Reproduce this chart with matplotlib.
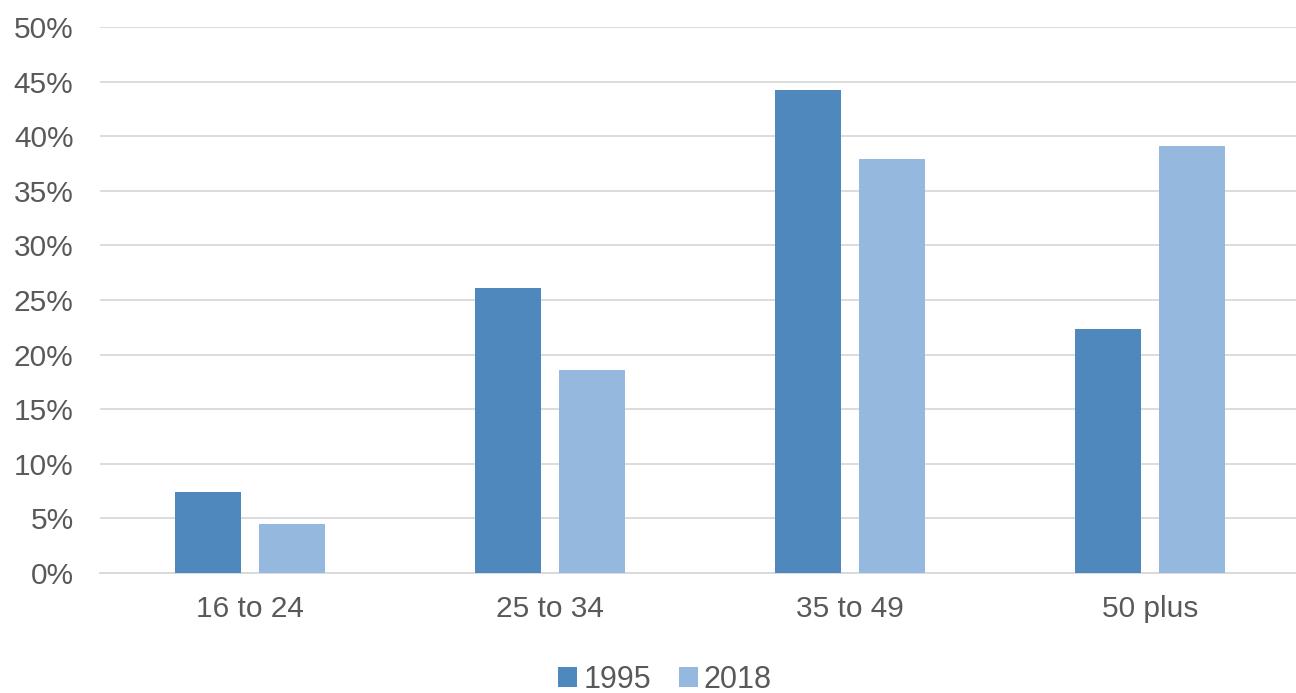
import numpy as np
import matplotlib.pyplot as plt
from matplotlib.ticker import FuncFormatter

# ---- data ----
categories = ['16 to 24', '25 to 34', '35 to 49', '50 plus']
years = ['1995', '2018']
share_1995 = [7.4, 26.1, 44.2, 22.3]
share_2018 = [4.5, 18.6, 37.9, 39.1]

colors = ['#4F88BC', '#95B8DF']
text_col = '#595959'
grid_col = '#D9D9D9'

plt.rcParams['font.family'] = ['Liberation Sans', 'DejaVu Sans']

fig = plt.figure(figsize=(12.96, 6.93), dpi=100)
ax = fig.add_axes([100 / 1296, 120 / 693, 1196 / 1296, 546 / 693])

x = np.arange(len(categories))
w = 0.22
ax.bar(x - 0.14, share_1995, width=w, color=colors[0], label=years[0], zorder=3)
ax.bar(x + 0.14, share_2018, width=w, color=colors[1], label=years[1], zorder=3)

ax.set_xlim(-0.5, 3.487)
ax.set_ylim(0, 50)
ax.set_yticks(np.arange(0, 51, 5))
ax.yaxis.set_major_formatter(FuncFormatter(lambda v, p: f'{v:.0f}%'))
ax.set_xticks(x)
ax.set_xticklabels(categories)

ax.grid(axis='y', color=grid_col, linewidth=1.3, zorder=0)
for s in ['top', 'right', 'left']:
    ax.spines[s].set_visible(False)
ax.spines['bottom'].set_color(grid_col)
ax.spines['bottom'].set_linewidth(1.3)
ax.tick_params(axis='both', length=0, labelsize=21.5, colors=text_col)
ax.tick_params(axis='y', pad=19)
ax.tick_params(axis='x', pad=16)

leg = fig.legend(loc='center', bbox_to_anchor=(665 / 1296, 1 - 680 / 693), ncol=2,
                 frameon=False, fontsize=22, handlelength=0.62, handleheight=0.62,
                 handletextpad=0.2, columnspacing=0.9)
for t in leg.get_texts():
    t.set_color(text_col)

fig.savefig('out.png', dpi=100)
